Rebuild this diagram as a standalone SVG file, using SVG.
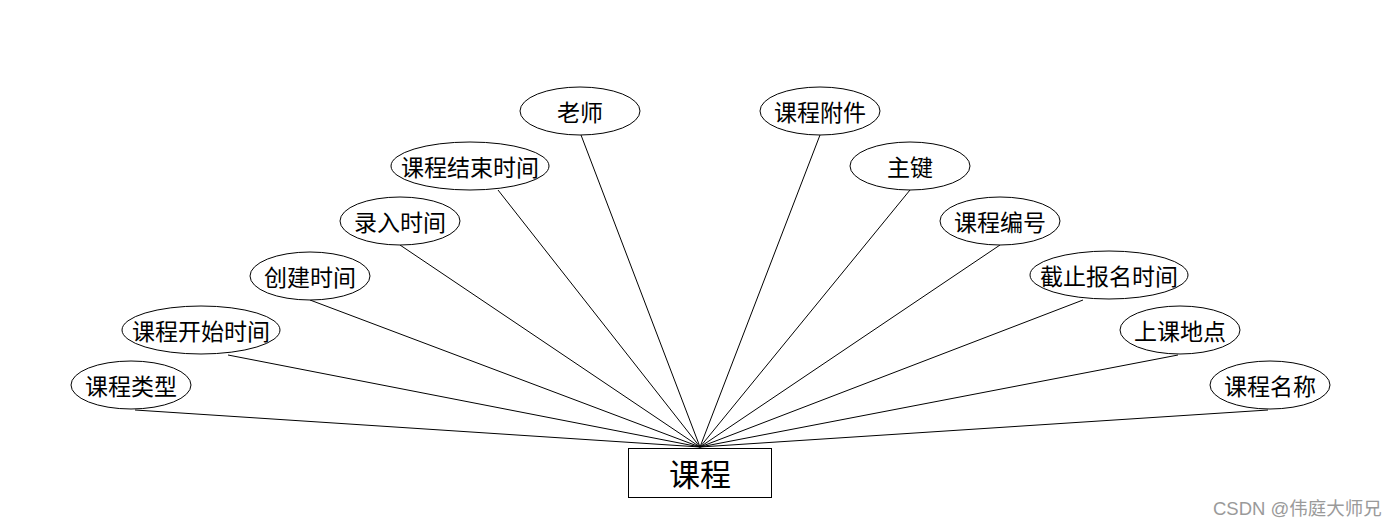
<svg xmlns="http://www.w3.org/2000/svg" width="1400" height="528" viewBox="0 0 1400 528">
<style>
.attr ellipse{fill:#fff;stroke:#000;stroke-width:1}
.attr text,.entity text{font-family:"Noto Sans CJK SC","Liberation Sans",sans-serif;fill:#000;text-anchor:middle;dominant-baseline:central}
.attr text{font-size:23px}
.entity rect{fill:#fff;stroke:#000;stroke-width:1}
.entity text{font-size:31px}
#connectors line{stroke:#000;stroke-width:1}
.wm{font-family:"Liberation Sans","Noto Sans CJK SC",sans-serif;font-size:18.5px;fill:#9a9a9a}
</style>
<rect width="1400" height="528" fill="#fff"/>
<g id="connectors">
<line x1="581" y1="135" x2="700" y2="447"/>
<line x1="820" y1="135" x2="700" y2="447"/>
<line x1="498" y1="190" x2="700" y2="447"/>
<line x1="910" y1="190" x2="700" y2="447"/>
<line x1="400" y1="245" x2="700" y2="447"/>
<line x1="1000" y1="245" x2="700" y2="447"/>
<line x1="310" y1="300" x2="700" y2="447"/>
<line x1="1083" y1="300" x2="700" y2="447"/>
<line x1="228" y1="355" x2="700" y2="447"/>
<line x1="1178" y1="355" x2="700" y2="447"/>
<line x1="135" y1="410" x2="700" y2="447"/>
<line x1="1268" y1="410" x2="700" y2="447"/>
</g>
<g id="n-laoshi" class="attr"><ellipse cx="580" cy="111" rx="60" ry="24"/><text x="580" y="111">老师</text></g>
<g id="n-fujian" class="attr"><ellipse cx="820" cy="111" rx="60" ry="24"/><text x="820" y="111">课程附件</text></g>
<g id="n-jieshu" class="attr"><ellipse cx="470" cy="166" rx="79" ry="24"/><text x="470" y="166">课程结束时间</text></g>
<g id="n-zhujian" class="attr"><ellipse cx="910" cy="166" rx="60" ry="24"/><text x="910" y="166">主键</text></g>
<g id="n-luru" class="attr"><ellipse cx="400" cy="221" rx="60" ry="24"/><text x="400" y="221">录入时间</text></g>
<g id="n-bianhao" class="attr"><ellipse cx="1000" cy="221" rx="60" ry="24"/><text x="1000" y="221">课程编号</text></g>
<g id="n-chuangjian" class="attr"><ellipse cx="310" cy="276" rx="60" ry="24"/><text x="310" y="276">创建时间</text></g>
<g id="n-jiezhi" class="attr"><ellipse cx="1109" cy="275" rx="79" ry="24"/><text x="1109" y="275">截止报名时间</text></g>
<g id="n-kaishi" class="attr"><ellipse cx="201" cy="330" rx="79" ry="24"/><text x="201" y="330">课程开始时间</text></g>
<g id="n-didian" class="attr"><ellipse cx="1180" cy="330" rx="60" ry="24"/><text x="1180" y="330">上课地点</text></g>
<g id="n-leixing" class="attr"><ellipse cx="131" cy="385" rx="60" ry="24"/><text x="131" y="385">课程类型</text></g>
<g id="n-mingcheng" class="attr"><ellipse cx="1270" cy="385" rx="60" ry="24"/><text x="1270" y="385">课程名称</text></g>
<g id="n-kecheng" class="entity"><rect x="628.5" y="448.5" width="143" height="49"/><text x="700" y="472">课程</text></g>
<text class="wm" x="1213" y="515">CSDN @伟庭大师兄</text>
</svg>
